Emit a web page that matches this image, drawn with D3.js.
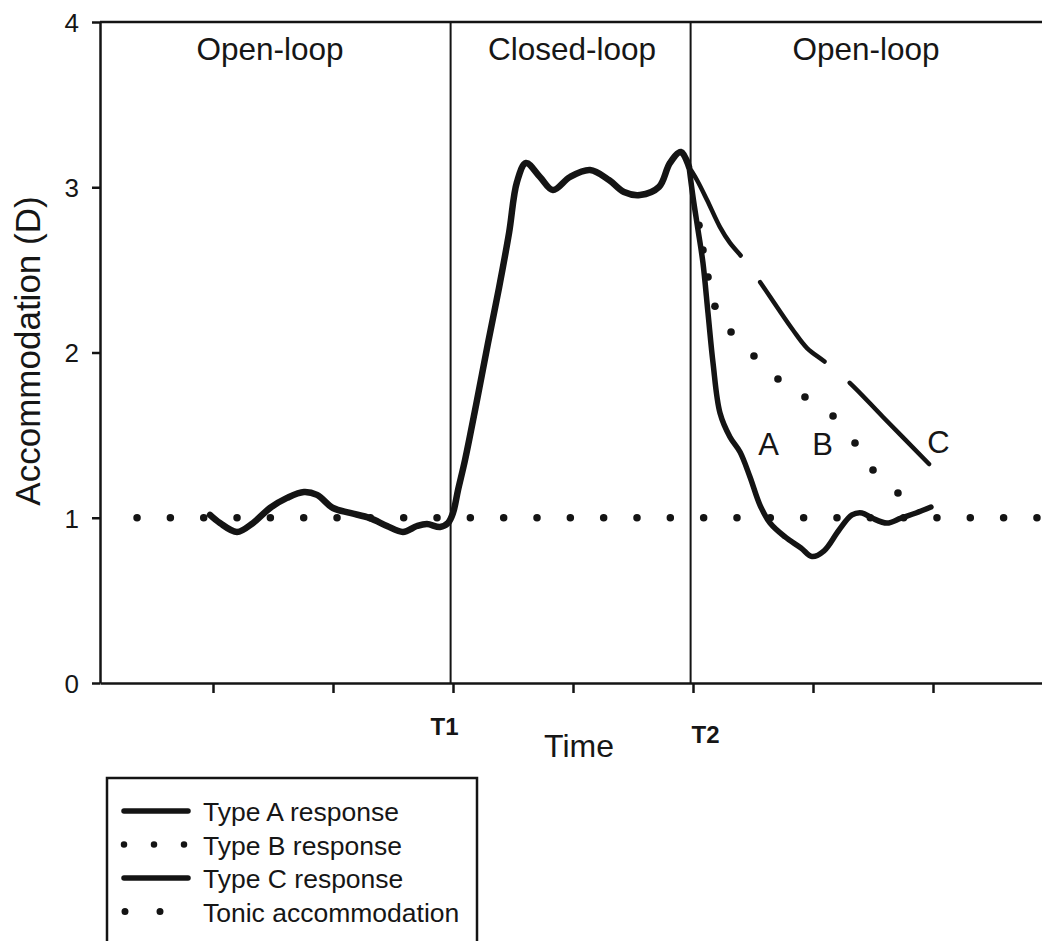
<!DOCTYPE html>
<html>
<head>
<meta charset="utf-8">
<script src="https://cdn.jsdelivr.net/npm/d3@7"></script>
<style>
  html, body { margin: 0; padding: 0; background: #fff; }
  svg { display: block; }
  text { font-family: "Liberation Sans", Arial, Helvetica, sans-serif; fill: #161616; }
</style>
</head>
<body>
<svg id="chart" width="1042" height="941"></svg>
<script>
// Time is in arbitrary units: one tick per unit, switch to closed loop at T1, back to open loop at T2
const timeTicks = [0, 1, 2, 3, 4, 5, 6];
const timeTickLabels = ["", "", "T1", "", "T2", "", ""];
const accTicks = [0, 1, 2, 3, 4];

const phaseNames = ["Open-loop", "Closed-loop", "Open-loop"];
const phaseCentres = [0.475, 2.992, 5.442];
const phaseBounds = [1.98, 3.98];

const tonicLevel = 1.0;
const tonicSpan = [-0.633, 6.95];

// Accommodation common to all response types, up to T2
const sharedTime = [-0.025, 0.058, 0.2, 0.333, 0.475, 0.617, 0.758, 0.867, 1.0, 1.142, 1.308, 1.45, 1.583, 1.7, 1.783, 1.892, 1.958, 2.0, 2.042, 2.1, 2.192, 2.292, 2.383, 2.467, 2.533, 2.608, 2.725, 2.833, 2.975, 3.142, 3.3, 3.425, 3.558, 3.717, 3.808, 3.9, 3.967];
const sharedAcc  = [1.017, 0.968, 0.914, 0.968, 1.059, 1.12, 1.156, 1.138, 1.059, 1.029, 0.998, 0.95, 0.914, 0.95, 0.962, 0.944, 0.968, 1.029, 1.168, 1.349, 1.682, 2.058, 2.39, 2.723, 3.032, 3.147, 3.062, 2.983, 3.062, 3.104, 3.044, 2.971, 2.953, 3.002, 3.147, 3.213, 3.123];

// Type A: fast regression to tonic level after T2
const typeATime = [3.967, 4.0, 4.042, 4.083, 4.125, 4.167, 4.225, 4.308, 4.392, 4.475, 4.558, 4.642, 4.767, 4.9, 4.992, 5.092, 5.217, 5.325, 5.408, 5.492, 5.617, 5.733, 5.858, 5.983];
const typeAAcc  = [3.123, 2.941, 2.741, 2.542, 2.239, 1.936, 1.634, 1.489, 1.398, 1.247, 1.077, 0.968, 0.884, 0.817, 0.765, 0.8, 0.926, 1.017, 1.029, 0.998, 0.968, 0.998, 1.029, 1.065];

// Type B: intermediate regression
const typeBTime = [4.05, 4.083, 4.125, 4.183, 4.317, 4.508, 4.708, 4.933, 5.167, 5.35, 5.5, 5.708];
const typeBAcc  = [2.77, 2.62, 2.457, 2.28, 2.124, 1.979, 1.84, 1.731, 1.616, 1.452, 1.289, 1.15];

// Type C: slow regression
const typeCTime = [3.967, 4.033, 4.117, 4.225, 4.308, 4.4, 4.558, 4.7, 4.833, 4.95, 5.1, 5.308, 5.583, 5.967];
const typeCAcc  = [3.123, 3.044, 2.923, 2.759, 2.663, 2.584, 2.427, 2.275, 2.136, 2.027, 1.943, 1.815, 1.61, 1.325];

const curveLetters = ["A", "B", "C"];
const letterTime = [4.63, 5.08, 6.045];
const letterAcc  = [1.38, 1.38, 1.392];

const legendLabels = ["Type A response", "Type B response", "Type C response", "Tonic accommodation"];

const W = 1042, H = 941;
const ink = "#141414";
const svg = d3.select("#chart");
svg.append("rect").attr("width", W).attr("height", H).attr("fill", "#fff");

const x = d3.scaleLinear().domain([-0.9417, 6.9083]).range([100, 1042]);
const y = d3.scaleLinear().domain([0, 4]).range([683, 22]);

const zip = (t, v) => t.map((d, i) => [d, v[i]]);
const line = d3.line()
  .x(d => x(d[0]))
  .y(d => y(d[1]))
  .curve(d3.curveCatmullRom.alpha(0.5));

// phase boundaries
svg.append("g").selectAll("line").data(phaseBounds).join("line")
  .attr("x1", d => x(d)).attr("x2", d => x(d))
  .attr("y1", y(0)).attr("y2", y(4))
  .attr("stroke", ink).attr("stroke-width", 2);

// top frame
svg.append("line")
  .attr("x1", x.range()[0]).attr("x2", x.range()[1])
  .attr("y1", y(4)).attr("y2", y(4))
  .attr("stroke", ink).attr("stroke-width", 2.5);

// tonic accommodation level
svg.append("line")
  .attr("x1", x(tonicSpan[0])).attr("x2", x(tonicSpan[1]))
  .attr("y1", y(tonicLevel)).attr("y2", y(tonicLevel))
  .attr("stroke", ink).attr("stroke-width", 7.5)
  .attr("stroke-linecap", "round")
  .attr("stroke-dasharray", "0 33.33");

// shared response up to T2
svg.append("path").datum(zip(sharedTime, sharedAcc))
  .attr("d", line).attr("fill", "none")
  .attr("stroke", ink).attr("stroke-width", 6.5).attr("stroke-linejoin", "round").attr("stroke-linecap", "round");

// Type A
svg.append("path").datum(zip(typeATime, typeAAcc))
  .attr("d", line).attr("fill", "none")
  .attr("stroke", ink).attr("stroke-width", 5.5).attr("stroke-linejoin", "round").attr("stroke-linecap", "round");

// Type C (long dashes)
svg.append("path").datum(zip(typeCTime, typeCAcc))
  .attr("d", line).attr("fill", "none")
  .attr("stroke", ink).attr("stroke-width", 4.5)
  .attr("stroke-linecap", "round")
  .attr("stroke-dasharray", "103 33 103 33 200");

// Type B (dots)
svg.append("g").selectAll("circle").data(zip(typeBTime, typeBAcc)).join("circle")
  .attr("cx", d => x(d[0])).attr("cy", d => y(d[1]))
  .attr("r", 3.8).attr("fill", ink);

// curve letters
svg.append("g").selectAll("text").data(curveLetters).join("text")
  .attr("x", (d, i) => x(letterTime[i])).attr("y", (d, i) => y(letterAcc[i]))
  .attr("text-anchor", "middle").attr("font-size", 31)
  .text(d => d);

// phase names
svg.append("g").selectAll("text").data(phaseNames).join("text")
  .attr("x", (d, i) => x(phaseCentres[i])).attr("y", 60)
  .attr("text-anchor", "middle").attr("font-size", 31.5)
  .text(d => d);

// axes
const yAxis = svg.append("g")
  .attr("transform", `translate(${x.range()[0]},0)`)
  .call(d3.axisLeft(y).tickValues(accTicks).tickFormat(d3.format("d")).tickSize(8).tickPadding(13).tickSizeOuter(0));
yAxis.select(".domain").attr("stroke", ink).attr("stroke-width", 2.5);
yAxis.selectAll(".tick line").attr("stroke", ink).attr("stroke-width", 2.5);
yAxis.selectAll(".tick text")
  .style("font-family", '"Liberation Sans", Arial, sans-serif')
  .attr("font-size", 26).attr("fill", "#161616").attr("dy", "0.36em");

const xAxis = svg.append("g")
  .attr("transform", `translate(0,${y(0)})`)
  .call(d3.axisBottom(x).tickValues(timeTicks).tickFormat((d, i) => timeTickLabels[i]).tickSize(10).tickSizeOuter(0));
xAxis.select(".domain").attr("stroke", ink).attr("stroke-width", 2.5);
xAxis.selectAll(".tick line").attr("stroke", ink).attr("stroke-width", 2.5);
xAxis.selectAll(".tick text")
  .style("font-family", '"Liberation Sans", Arial, sans-serif')
  .attr("font-size", 24).attr("font-weight", "bold").attr("fill", "#161616")
  .attr("dy", null)
  .attr("y", d => d === 4 ? 60 : 52)
  .attr("dx", d => d === 4 ? 12 : -9);

// axis titles
svg.append("text")
  .attr("x", 579).attr("y", 757)
  .attr("text-anchor", "middle").attr("font-size", 32)
  .text("Time");

svg.append("text")
  .attr("transform", "translate(40,351) rotate(-90)")
  .attr("text-anchor", "middle").attr("font-size", 35)
  .text("Accommodation (D)");

// legend
const legend = svg.append("g");
legend.append("rect")
  .attr("x", 107).attr("y", 778).attr("width", 370).attr("height", 220)
  .attr("fill", "#fff").attr("stroke", ink).attr("stroke-width", 2.5);

const rowY = i => 811 + 33.5 * i;
legend.selectAll("text.lab").data(legendLabels).join("text")
  .attr("class", "lab")
  .attr("x", 203).attr("y", (d, i) => rowY(i) + 10)
  .attr("font-size", 26.5)
  .text(d => d);

// legend symbols
[0, 2].forEach(i => {
  legend.append("line")
    .attr("x1", 124).attr("x2", 188).attr("y1", rowY(i)).attr("y2", rowY(i))
    .attr("stroke", ink).attr("stroke-width", 5.5).attr("stroke-linecap", "round");
});
legend.append("line")
  .attr("x1", 124).attr("x2", 188).attr("y1", rowY(1)).attr("y2", rowY(1))
  .attr("stroke", ink).attr("stroke-width", 6.5).attr("stroke-linecap", "round")
  .attr("stroke-dasharray", "0 30");
legend.append("line")
  .attr("x1", 125).attr("x2", 165).attr("y1", rowY(3)).attr("y2", rowY(3))
  .attr("stroke", ink).attr("stroke-width", 7).attr("stroke-linecap", "round")
  .attr("stroke-dasharray", "0 35");
</script>
</body>
</html>
